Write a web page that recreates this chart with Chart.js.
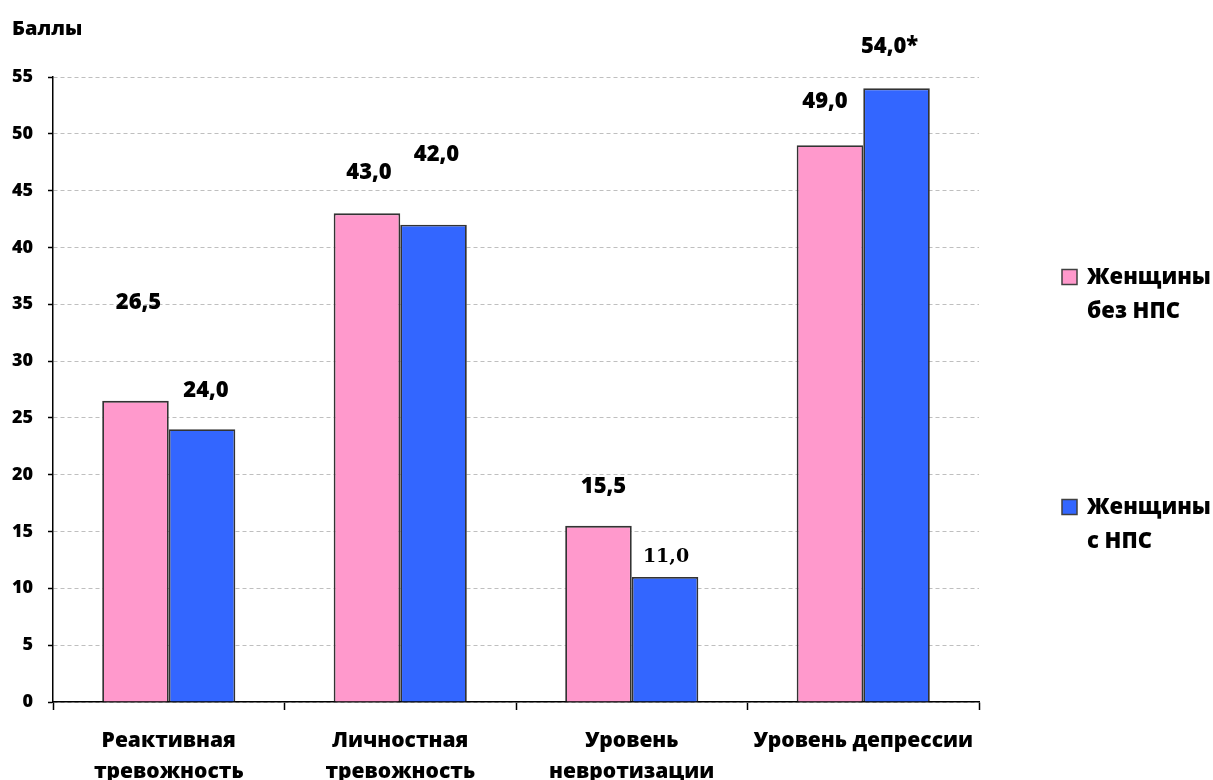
<!DOCTYPE html>
<html>
<head>
<meta charset="utf-8">
<script src="https://cdn.jsdelivr.net/npm/chart.js@4"></script>
<style>
  html, body { margin: 0; padding: 0; background: #fff; }
  #wrap { width: 1213px; height: 780px; position: relative; }
</style>
</head>
<body>
<div id="wrap"><canvas id="c" width="1213" height="780"></canvas></div>
<script>
// Categories (multi-line axis labels)
const categories = [
  ['Реактивная', 'тревожность'],
  ['Личностная', 'тревожность'],
  ['Уровень', 'невротизации'],
  ['Уровень депрессии']
];
// Series values, points
const withoutNPS = [26.5, 43.0, 15.5, 49.0];
const withNPS = [24.0, 42.0, 11.0, 54.0];
// Value label texts
const labelsWithout = ['26,5', '43,0', '15,5', '49,0'];
const labelsWith = ['24,0', '42,0', '11,0', '54,0*'];
// Legend entries (two lines each)
const seriesNames = [['Женщины', 'без НПС'], ['Женщины', 'с НПС']];
const yTicks = [0, 5, 10, 15, 20, 25, 30, 35, 40, 45, 50, 55];

const FONT = '"Open Sans", "DejaVu Sans", sans-serif';
const WEIGHT = 800;

// Value labels positioned relative to each bar top
const valueLabels = {
  id: 'valueLabels',
  afterDatasetsDraw(chart, args, opts) {
    const ctx = chart.ctx;
    ctx.save();
    ctx.textAlign = 'center';
    ctx.textBaseline = 'middle';
    chart.data.datasets.forEach((ds, di) => {
      const meta = chart.getDatasetMeta(di);
      meta.data.forEach((bar, i) => {
        const off = opts.offsets[di][i];
        const serif = opts.serif[di][i];
        ctx.font = serif ? 'bold 19px "DejaVu Serif", "Liberation Serif", serif'
                         : WEIGHT + ' 22px ' + FONT;
        ctx.fillStyle = '#000';
        ctx.fillText(ds.valueLabels[i], bar.x + off[0], bar.y - off[1]);
      });
    });
    ctx.restore();
  }
};

// Legend drawn at the right, two-line entries
const sideLegend = {
  id: 'sideLegend',
  afterDraw(chart, args, opts) {
    const ctx = chart.ctx;
    ctx.save();
    chart.data.datasets.forEach((ds, di) => {
      const y = opts.rows[di];
      ctx.fillStyle = ds.backgroundColor;
      ctx.fillRect(opts.x, y - 7.5, 15, 15);
      ctx.strokeStyle = '#404040';
      ctx.lineWidth = 1.5;
      ctx.strokeRect(opts.x, y - 7.5, 15, 15);
      ctx.fillStyle = '#000';
      ctx.font = WEIGHT + ' 22px ' + FONT;
      ctx.textAlign = 'left';
      ctx.textBaseline = 'middle';
      seriesNames[di].forEach((line, li) => {
        ctx.fillText(line, opts.x + 25, y + 1 + li * 34);
      });
    });
    // axis caption
    ctx.font = WEIGHT + ' 20px ' + FONT;
    ctx.textAlign = 'left';
    ctx.textBaseline = 'middle';
    ctx.fillText('Баллы', 12, 29);
    ctx.restore();
  }
};

new Chart(document.getElementById('c'), {
  type: 'bar',
  data: {
    labels: categories,
    datasets: [
      {
        label: seriesNames[0].join(' '),
        data: withoutNPS,
        valueLabels: labelsWithout,
        backgroundColor: '#FF99CC',
        borderColor: '#333333',
        borderWidth: 1.8,
        borderSkipped: 'bottom'
      },
      {
        label: seriesNames[1].join(' '),
        data: withNPS,
        valueLabels: labelsWith,
        backgroundColor: '#3366FF',
        borderColor: '#333333',
        borderWidth: 1.8,
        borderSkipped: 'bottom'
      }
    ]
  },
  options: {
    responsive: false,
    animation: false,
    devicePixelRatio: 1,
    layout: { padding: { top: 77, right: 234, left: 0, bottom: 0 } },
    datasets: { bar: { categoryPercentage: 0.575, barPercentage: 1.0 } },
    scales: {
      x: {
        offset: true,
        grid: {
          display: true,
          offset: true,
          drawOnChartArea: false,
          drawTicks: true,
          tickLength: 8,
          tickColor: '#000',
          tickWidth: 1.5
        },
        border: { display: true, color: '#000', width: 1.5 },
        ticks: {
          color: '#000',
          font: { family: FONT, size: 21, weight: WEIGHT, lineHeight: 1.5 },
          padding: 15,
          maxRotation: 0,
          autoSkip: false
        },
        afterFit(scale) { scale.height = 78; }
      },
      y: {
        min: 0,
        max: 55,
        afterBuildTicks(scale) { scale.ticks = yTicks.map(v => ({ value: v })); },
        grid: {
          color: '#BFBFBF',
          lineWidth: 1,
          drawTicks: true,
          tickLength: 5,
          tickColor: '#000',
          tickWidth: 1.5
        },
        border: { display: true, color: '#000', width: 1.5, dash: [4, 3] },
        ticks: {
          color: '#000',
          font: { family: FONT, size: 18, weight: WEIGHT },
          padding: 15
        },
        afterFit(scale) { scale.width = 53; }
      }
    },
    plugins: {
      legend: { display: false },
      tooltip: { enabled: false },
      valueLabels: {
        offsets: [
          [[3, 98], [2, 41], [5, 39], [-5, 43]],
          [[4, 39], [3, 70], [1, 20], [-7, 42]]
        ],
        serif: [
          [false, false, false, false],
          [false, false, true, false]
        ]
      },
      sideLegend: { x: 1062, rows: [277, 507] }
    }
  },
  plugins: [valueLabels, sideLegend]
});
</script>
</body>
</html>
